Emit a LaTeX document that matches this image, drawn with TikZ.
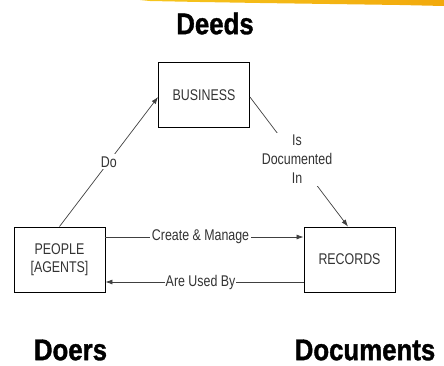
\documentclass[tikz,border=0pt]{standalone}
\usepackage{fontspec}
\newfontfamily\boxfont[FakeStretch=0.8]{Liberation Sans}
\newfontfamily\titlefont[FakeStretch=0.86, FakeBold=1.2]{Liberation Sans Bold}
\usetikzlibrary{arrows.meta}

\definecolor{brushyellow}{HTML}{F6C61E}
\definecolor{brushorange}{HTML}{F2A90C}

\begin{document}
\begin{tikzpicture}[
        x=1pt, y=-1pt,
        box/.style={draw, line width=0.9pt, minimum width=91pt, minimum height=65pt, align=center,
                    font=\boxfont\fontsize{15.5}{18}\selectfont, text=black!80},
        arrow/.style={-{Latex[length=7pt, width=5pt]}, line width=0.7pt, draw=black!75},
        lbl/.style={fill=white, inner sep=2pt, align=center,
                    font=\boxfont\fontsize{15.5}{19}\selectfont, text=black!80},
        title/.style={font=\titlefont\fontsize{30}{30}\selectfont, inner sep=0pt}
        ]
        \useasboundingbox (0,0) rectangle (444,365);

        % Brush stroke at the top
        \shade[left color=brushyellow, right color=brushorange]
            (140,0) -- (444,0) -- (444,6) -- (400,5) -- (330,4) -- (260,3) -- (200,2) -- (150,1) -- cycle;

        % Titles
        \node[title] (Deeds) at (215,23.5) {Deeds};
        \node[title] (Doers) at (70.5,350) {Doers};
        \node[title] (Documents) at (365,350) {Documents};

        % Nodes
        \node[box] (business) at (204,95) {BUSINESS};
        \node[box] (people) at (59.5,259.5) {PEOPLE\\{[AGENTS]}};
        \node[box] (records) at (349.5,259.5) {RECORDS};

        % Arrows
        \draw [arrow] (people.north) -- node[lbl] {Do} ([yshift=-2pt]business.west);
        \draw [arrow] ([yshift=-2pt]business.east) -- node[lbl, pos=0.48] {Is\\Documented\\In} ([xshift=-1.5pt]records.north);
        \draw [arrow] ([yshift=22.5pt]people.east) -- node[lbl, pos=0.48, inner sep=1.5pt] {Create \& Manage} ([yshift=22.5pt]records.west);
        \draw [arrow] ([yshift=-22.5pt]records.west) -- node[lbl, pos=0.52, inner sep=1pt] {Are Used By} ([yshift=-22.5pt]people.east);
    \end{tikzpicture}
\end{document}
